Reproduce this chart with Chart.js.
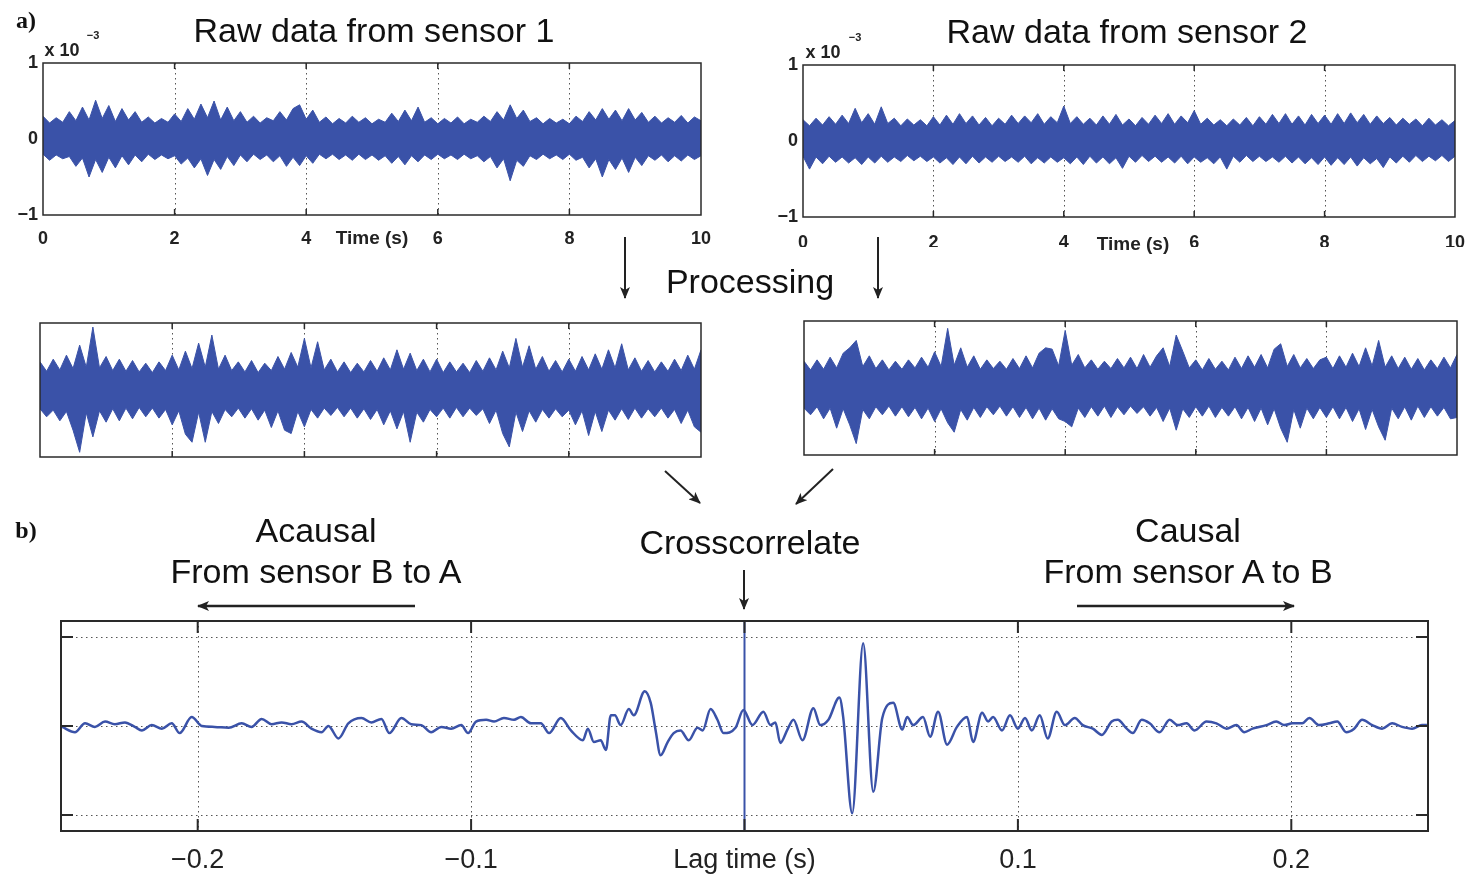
<!DOCTYPE html>
<html>
<head>
<meta charset="utf-8">
<script src="https://cdn.jsdelivr.net/npm/chart.js@4.4.1/dist/chart.umd.min.js"></script>
<style>
  html, body { margin: 0; padding: 0; background: #fff; overflow: hidden; }
  #page { position: relative; width: 1465px; height: 876px; overflow: hidden; font-family: 'Liberation Sans', Arial, sans-serif; color: #111; }
  canvas { position: absolute; }
  svg { position: absolute; left: 0; top: 0; }
  .t { position: absolute; white-space: nowrap; transform: translate(-50%, -50%); line-height: 1; }
  .title { font-size: 34px; }
  .narrow { font-family: 'Liberation Sans Narrow', 'Liberation Sans', Arial, sans-serif; font-weight: bold; font-size: 18px; color: #222; }
  .sup { font-size: 11px; }
  .tag { font-family: 'Liberation Serif', 'DejaVu Serif', serif; font-weight: bold; font-size: 24px; }
</style>
</head>
<body>
<div id="page">
  <canvas id="raw1" width="740" height="215" style="left:0px;top:40px"></canvas>
  <canvas id="raw2" width="720" height="217" style="left:760px;top:40px"></canvas>
  <canvas id="proc1" width="669" height="142" style="left:36px;top:319px"></canvas>
  <canvas id="proc2" width="661" height="142" style="left:800px;top:317px"></canvas>
  <canvas id="xcorr" width="1420" height="276" style="left:40px;top:600px"></canvas>

  <svg width="1465" height="876">
    <defs>
      <marker id="head" viewBox="0 0 12 10" refX="11" refY="5" markerWidth="12" markerHeight="10" markerUnits="userSpaceOnUse" orient="auto">
        <path d="M0,0 L12,5 L0,10 L3,5 z" fill="#222"/>
      </marker>
    </defs>
    <g stroke="#222" stroke-width="2" fill="none" marker-end="url(#head)">
      <line x1="625" y1="237" x2="625" y2="298"/>
      <line x1="878" y1="237" x2="878" y2="298"/>
      <line x1="665" y1="471" x2="700" y2="503"/>
      <line x1="833" y1="469" x2="796" y2="504"/>
      <line x1="744" y1="570" x2="744" y2="609"/>
      <line x1="415" y1="606" x2="198" y2="606" stroke-width="2.5"/>
      <line x1="1077" y1="606" x2="1294" y2="606" stroke-width="2.5"/>
    </g>
  </svg>

  <div class="t tag" style="left:26px;top:20px">a)</div>
  <div class="t tag" style="left:26px;top:530px">b)</div>
  <div class="t title" style="left:374px;top:30px">Raw data from sensor 1</div>
  <div class="t title" style="left:1127px;top:31px">Raw data from sensor 2</div>
  <div class="t title" style="left:750px;top:281px">Processing</div>
  <div class="t title" style="left:750px;top:542px">Crosscorrelate</div>
  <div class="t title" style="left:316px;top:530px">Acausal</div>
  <div class="t title" style="left:316px;top:571px">From sensor B to A</div>
  <div class="t title" style="left:1188px;top:530px">Causal</div>
  <div class="t title" style="left:1188px;top:571px">From sensor A to B</div>
  <div class="t narrow" style="left:372px;top:237px;font-size:19px">Time (s)</div>
  <div class="t narrow" style="left:1133px;top:243px;font-size:19px">Time (s)</div>
  <div class="t narrow" style="left:62px;top:50px;font-size:18px">x 10</div>
  <div class="t narrow sup" style="left:93px;top:35px">−3</div>
  <div class="t narrow" style="left:823px;top:52px;font-size:18px">x 10</div>
  <div class="t narrow sup" style="left:855px;top:37px">−3</div>
</div>

<script>
// Tick values
const timeTicks = [0, 2, 4, 6, 8, 10];
const timeGrid = [2, 4, 6, 8];
const rawYTicks = [-1, 0, 1];
const lagTicks = [-0.2, -0.1, 0, 0.1, 0.2];
const lagGrid = [-0.2, -0.1, 0.1, 0.2];
const corrGrid = [-1, 0, 1];

// Noise records: envelope (upper / lower) read every 0.1 s, 0..10 s
const SAMPLE_STEP = 0.1;

const raw1Upper = [0.30,0.21,0.28,0.22, 0.36,0.24,0.42,0.25,0.51,0.27,0.44,0.23,0.40,0.25,0.36,0.22, 0.29,0.21,0.27,0.22,
  0.33,0.23,0.40,0.26,0.46,0.28,0.50,0.25,0.42,0.24,0.36,0.22,0.30, 0.21,0.28, 0.24,0.36,0.25,0.40,0.45,0.26,0.38,0.22,
  0.29,0.20,0.27,0.21,0.30,0.22,0.28,0.20,0.26,0.22, 0.34,0.23,0.38,0.24,0.42,0.22, 0.28,0.20,0.27,0.21,0.29,0.20,0.26,0.22,0.30,0.23,
  0.36,0.25,0.45,0.27,0.38,0.23, 0.28,0.20,0.27,0.21,0.26,0.20,0.30, 0.23,0.36,0.25,0.40,0.26,0.38,0.24,0.40,0.25,0.35,0.22,
  0.30,0.21,0.28,0.22,0.31,0.21,0.29,0.24];
const raw1Lower = [-0.20,-0.28,-0.21,-0.26, -0.23,-0.36,-0.25,-0.50,-0.27,-0.44,-0.24,-0.38,-0.22,-0.34,-0.21,-0.30, -0.20,-0.27,-0.21,-0.26,
  -0.22,-0.33,-0.25,-0.38,-0.26,-0.48,-0.27,-0.40,-0.23,-0.35,-0.21,-0.30,-0.20, -0.27,-0.21, -0.30,-0.22,-0.36,-0.24,-0.35,-0.22,-0.32,-0.20,
  -0.26,-0.20,-0.27,-0.21,-0.28,-0.20,-0.27,-0.21,-0.28,-0.22, -0.32,-0.23,-0.34,-0.22,-0.30,-0.21, -0.27,-0.20,-0.26,-0.21,-0.27,-0.20,-0.26,-0.22,-0.30,-0.23,
  -0.38,-0.26,-0.55,-0.28,-0.36,-0.22, -0.27,-0.20,-0.26,-0.21,-0.27,-0.20,-0.28, -0.24,-0.38,-0.26,-0.50,-0.27,-0.40,-0.25,-0.44,-0.24,-0.35,-0.22,
  -0.28,-0.21,-0.30,-0.22,-0.29,-0.21,-0.27,-0.22];

const raw2Upper = [0.28,0.20,0.30,0.21,0.32,0.22,0.34,0.23,0.43,0.24, 0.36,0.22,0.45,0.23,0.30,0.20,0.29,0.21,0.28,0.20,
  0.32,0.21,0.34,0.22,0.36,0.23,0.33,0.21,0.31,0.20, 0.30,0.22,0.34,0.23,0.33,0.24,0.36,0.22,0.32,0.24,
  0.46,0.23,0.32,0.22,0.30,0.21,0.33,0.22,0.35,0.21, 0.29,0.20,0.31,0.22,0.34,0.23,0.36,0.22,0.33,0.24,
  0.40,0.22,0.30,0.21,0.28,0.20,0.29,0.21,0.31,0.20, 0.32,0.22,0.35,0.23,0.36,0.22,0.33,0.21,0.35,0.23,
  0.34,0.22,0.36,0.23,0.37,0.24,0.35,0.22,0.33,0.23, 0.31,0.21,0.30,0.22,0.29,0.20,0.30,0.21,0.28,0.20,0.27];
const raw2Lower = [-0.20,-0.37,-0.21,-0.30,-0.20,-0.28,-0.21,-0.29,-0.22,-0.31, -0.21,-0.29,-0.20,-0.28,-0.21,-0.27,-0.19,-0.26,-0.20,-0.27,
  -0.21,-0.29,-0.22,-0.31,-0.21,-0.30,-0.20,-0.29,-0.21,-0.28, -0.20,-0.27,-0.21,-0.28,-0.20,-0.30,-0.22,-0.29,-0.21,-0.28,
  -0.22,-0.30,-0.21,-0.31,-0.20,-0.29,-0.21,-0.30,-0.22,-0.36, -0.20,-0.28,-0.19,-0.27,-0.20,-0.28,-0.21,-0.29,-0.20,-0.30,
  -0.21,-0.28,-0.22,-0.30,-0.21,-0.37,-0.20,-0.28,-0.19,-0.27, -0.20,-0.27,-0.21,-0.28,-0.20,-0.29,-0.21,-0.30,-0.22,-0.31,
  -0.21,-0.32,-0.22,-0.31,-0.21,-0.33,-0.22,-0.30,-0.23,-0.35, -0.21,-0.29,-0.20,-0.28,-0.19,-0.27,-0.20,-0.26,-0.19,-0.27,-0.20];

const proc1Upper = [0.42,0.28,0.46,0.30,0.52,0.32,0.67,0.34,0.94,0.33, 0.50,0.29,0.46,0.28,0.44,0.27,0.40,0.26,0.42,0.29,
  0.52,0.30,0.58,0.32,0.70,0.34,0.82,0.31,0.52,0.29, 0.42,0.27,0.44,0.26,0.40,0.29,0.50,0.31,0.56,0.34,
  0.77,0.33,0.72,0.30,0.46,0.27,0.42,0.26,0.40,0.27, 0.44,0.28,0.48,0.30,0.60,0.31,0.55,0.29,0.46,0.27,
  0.46,0.26,0.42,0.27,0.40,0.26,0.44,0.28,0.48,0.30, 0.58,0.33,0.77,0.34,0.66,0.31,0.50,0.28,0.44,0.27,
  0.46,0.28,0.50,0.30,0.54,0.31,0.60,0.33,0.69,0.30, 0.48,0.28,0.44,0.27,0.42,0.28,0.46,0.29,0.52,0.31,0.60];
const proc1Lower = [-0.28,-0.40,-0.30,-0.46,-0.32,-0.60,-0.93,-0.34,-0.70,-0.31, -0.48,-0.28,-0.46,-0.27,-0.43,-0.26,-0.40,-0.27,-0.42,-0.29,
  -0.52,-0.31,-0.66,-0.78,-0.33,-0.78,-0.32,-0.50,-0.29,-0.40, -0.27,-0.42,-0.28,-0.45,-0.30,-0.56,-0.31,-0.60,-0.65,-0.32,
  -0.55,-0.29,-0.42,-0.27,-0.38,-0.26,-0.40,-0.27,-0.42,-0.28, -0.44,-0.29,-0.52,-0.31,-0.58,-0.32,-0.78,-0.33,-0.48,-0.29,
  -0.40,-0.27,-0.42,-0.26,-0.40,-0.27,-0.38,-0.28,-0.50,-0.30, -0.65,-0.85,-0.33,-0.62,-0.31,-0.48,-0.29,-0.42,-0.28,-0.40,
  -0.30,-0.52,-0.31,-0.68,-0.32,-0.62,-0.30,-0.45,-0.28,-0.44, -0.27,-0.42,-0.28,-0.40,-0.27,-0.42,-0.29,-0.50,-0.30,-0.55,-0.63];

const proc2Upper = [0.40,0.27,0.42,0.28,0.46,0.30,0.52,0.60,0.71,0.32, 0.48,0.29,0.42,0.27,0.40,0.28,0.42,0.30,0.46,0.31,
  0.54,0.32,0.89,0.34,0.60,0.31,0.48,0.28,0.42,0.29, 0.40,0.28,0.44,0.29,0.48,0.30,0.52,0.60,0.58,0.33,
  0.86,0.34,0.50,0.30,0.42,0.28,0.40,0.29,0.44,0.30, 0.46,0.29,0.50,0.31,0.48,0.60,0.32,0.79,0.55,0.30,
  0.42,0.27,0.44,0.28,0.40,0.27,0.46,0.29,0.48,0.31, 0.50,0.30,0.58,0.66,0.32,0.50,0.30,0.44,0.29,0.42,
  0.46,0.29,0.48,0.31,0.52,0.32,0.60,0.33,0.71,0.31, 0.48,0.29,0.46,0.28,0.44,0.27,0.42,0.29,0.46,0.30,0.50];
const proc2Lower = [-0.30,-0.40,-0.28,-0.46,-0.30,-0.60,-0.31,-0.55,-0.83,-0.32, -0.46,-0.28,-0.40,-0.27,-0.42,-0.28,-0.43,-0.29,-0.46,-0.30,
  -0.50,-0.31,-0.52,-0.66,-0.32,-0.48,-0.29,-0.44,-0.28,-0.40, -0.27,-0.42,-0.28,-0.44,-0.29,-0.46,-0.30,-0.48,-0.31,-0.46,
  -0.50,-0.58,-0.30,-0.44,-0.28,-0.42,-0.27,-0.44,-0.28,-0.40, -0.27,-0.38,-0.28,-0.42,-0.29,-0.50,-0.30,-0.63,-0.31,-0.44,
  -0.28,-0.42,-0.27,-0.44,-0.29,-0.42,-0.28,-0.46,-0.29,-0.50, -0.30,-0.55,-0.31,-0.60,-0.81,-0.32,-0.60,-0.30,-0.46,-0.29,
  -0.44,-0.28,-0.46,-0.29,-0.50,-0.31,-0.62,-0.32,-0.58,-0.78, -0.30,-0.46,-0.28,-0.48,-0.27,-0.44,-0.28,-0.42,-0.29,-0.46,-0.44];

// Crosscorrelation (lag in s, normalised amplitude)
const lags = [-0.2496,-0.2449,-0.2412,-0.2376,-0.2339,-0.2303,-0.2266,-0.2230,-0.2204,-0.2168,-0.2131,-0.2095,-0.2066,-0.2022,
  -0.1985,-0.1938,-0.1887,-0.1839,-0.1803,-0.1766,-0.1730,-0.1693,-0.1657,-0.1620,-0.1584,-0.1547,-0.1522,-0.1485,-0.1449,
  -0.1401,-0.1365,-0.1328,-0.1299,-0.1255,-0.1219,-0.1182,-0.1146,-0.1109,-0.1073,-0.1036,-0.1011,-0.0982,-0.0945,-0.0916,
  -0.0880,-0.0843,-0.0818,-0.0781,-0.0745,-0.0715,-0.0672,-0.0635,-0.0591,-0.0573,-0.0551,-0.0526,-0.0507,-0.0489,-0.0474,
  -0.0453,-0.0423,-0.0405,-0.0365,-0.0343,-0.0325,-0.0307,-0.0281,-0.0259,-0.0234,-0.0204,-0.0172,-0.0153,-0.0124,-0.0099,
  -0.0077,-0.0033,-0.0004,0.0029,0.0069,0.0095,0.0113,0.0131,0.0157,0.0179,0.0212,0.0252,0.0277,0.0307,0.0347,0.0361,
  0.0394,0.0434,0.0471,0.0504,0.0544,0.0577,0.0595,0.0617,0.0653,0.0679,0.0708,0.0741,0.0777,0.0814,0.0836,0.0869,0.0891,
  0.0909,0.0942,0.0971,0.1000,0.1026,0.1051,0.1080,0.1109,0.1142,0.1172,0.1208,0.1237,0.1274,0.1307,0.1343,0.1365,0.1398,
  0.1420,0.1453,0.1482,0.1518,0.1555,0.1584,0.1617,0.1646,0.1690,0.1726,0.1763,0.1799,0.1828,0.1858,0.1909,0.1945,0.1974,
  0.2004,0.2040,0.2066,0.2102,0.2139,0.2168,0.2201,0.2230,0.2259,0.2296,0.2332,0.2369,0.2405,0.2442,0.2478,0.2496];
const corr = [-0.01,-0.07,0.03,-0.01,0.05,0.02,0.04,-0.01,-0.05,0.01,-0.03,0.03,-0.08,0.10,
  0.00,-0.01,-0.02,0.03,-0.01,0.08,0.02,0.04,0.02,0.05,-0.03,-0.07,0.00,-0.14,0.03,
  0.09,0.04,0.08,-0.08,0.09,0.02,0.01,-0.07,-0.01,-0.03,0.01,-0.08,0.05,0.07,0.05,
  0.09,0.07,0.10,0.03,0.03,-0.08,0.09,-0.05,-0.16,-0.03,-0.18,-0.16,-0.27,0.12,0.12,
  0.01,0.19,0.12,0.39,0.26,-0.05,-0.33,-0.18,-0.08,-0.05,-0.16,-0.02,-0.05,0.19,0.07,
  -0.08,-0.02,0.18,0.01,0.16,0.01,0.04,-0.19,-0.04,0.07,-0.16,0.20,0.01,0.07,0.32,0.10,
  -0.98,0.93,-0.74,0.09,0.26,-0.04,0.10,0.01,0.10,-0.12,0.16,-0.21,-0.01,0.10,-0.18,0.15,0.05,
  0.10,-0.05,0.12,-0.03,0.09,-0.05,0.12,-0.14,0.16,0.01,0.09,0.01,-0.03,-0.10,0.05,0.07,-0.03,
  -0.08,0.07,0.03,-0.07,0.07,0.01,0.03,-0.05,0.05,0.03,-0.03,0.01,-0.07,-0.03,0.01,0.05,0.01,
  0.03,0.03,0.09,0.01,0.03,0.05,-0.07,-0.03,0.07,0.01,-0.03,0.03,-0.01,-0.03,0.01,0.01];

const BLUE = '#3a52a8';
const NARROW = "'Liberation Sans Narrow', 'Liberation Sans', Arial, sans-serif";
const minus = v => (v < 0 ? '\u2212' : '') + Math.abs(v);

// MATLAB-like box: dotted grid under the data, inward ticks and frame on top
const matlabAxes = {
  id: 'matlabAxes',
  beforeDatasetsDraw(chart, args, o) {
    const { ctx, chartArea: a } = chart;
    const x = chart.scales.x, y = chart.scales.y;
    ctx.save();
    ctx.strokeStyle = '#555';
    ctx.lineWidth = 1;
    ctx.setLineDash([1.5, 3.5]);
    ctx.beginPath();
    (o.xGrid || []).forEach(v => {
      const p = Math.round(x.getPixelForValue(v)) + 0.5;
      ctx.moveTo(p, a.top); ctx.lineTo(p, a.bottom);
    });
    (o.yGrid || []).forEach(v => {
      const p = Math.round(y.getPixelForValue(v)) + 0.5;
      ctx.moveTo(a.left, p); ctx.lineTo(a.right, p);
    });
    ctx.stroke();
    ctx.restore();
  },
  afterDatasetsDraw(chart, args, o) {
    const { ctx, chartArea: a } = chart;
    const x = chart.scales.x, y = chart.scales.y;
    ctx.save();
    if (o.zeroLag !== undefined) {
      const p = x.getPixelForValue(o.zeroLag);
      ctx.strokeStyle = BLUE;
      ctx.lineWidth = 2;
      ctx.beginPath(); ctx.moveTo(p, a.top); ctx.lineTo(p, a.bottom); ctx.stroke();
    }
    ctx.strokeStyle = '#2a2a2a';
    ctx.lineWidth = o.tickWidth || 1.5;
    ctx.beginPath();
    (o.xTicks || []).forEach(v => {
      const p = x.getPixelForValue(v);
      ctx.moveTo(p, a.bottom); ctx.lineTo(p, a.bottom - o.tickLen);
      ctx.moveTo(p, a.top); ctx.lineTo(p, a.top + o.tickLen);
    });
    (o.yTicks || []).forEach(v => {
      const p = y.getPixelForValue(v);
      ctx.moveTo(a.left, p); ctx.lineTo(a.left + o.tickLen, p);
      ctx.moveTo(a.right, p); ctx.lineTo(a.right - o.tickLen, p);
    });
    ctx.stroke();
    ctx.lineWidth = o.frameWidth || 1.5;
    ctx.strokeRect(a.left, a.top, a.right - a.left, a.bottom - a.top);
    ctx.restore();
  }
};

function toPoints(values) {
  return values.map((v, i) => ({ x: i * SAMPLE_STEP, y: v }));
}

function noiseChart(id, upper, lower, padding, withAxes, labelPad) {
  const xScale = {
    type: 'linear', min: 0, max: 10, display: withAxes,
    grid: { display: false, drawTicks: false }, border: { display: false },
    afterBuildTicks: s => { s.ticks = timeTicks.map(v => ({ value: v })); },
    ticks: { color: '#222', padding: labelPad, font: { family: NARROW, size: 18, weight: 'bold' } }
  };
  const yScale = {
    type: 'linear', min: -1, max: 1, display: withAxes,
    grid: { display: false, drawTicks: false }, border: { display: false },
    afterBuildTicks: s => { s.ticks = rawYTicks.map(v => ({ value: v })); },
    ticks: { color: '#222', padding: 5, font: { family: NARROW, size: 18, weight: 'bold' }, callback: minus }
  };
  if (withAxes) {
    xScale.afterFit = s => { s.height = 30; };
    yScale.afterFit = s => { s.width = 43; };
  }
  return new Chart(document.getElementById(id), {
    type: 'line',
    data: {
      datasets: [
        { data: toPoints(upper), borderColor: BLUE, borderWidth: 1, pointRadius: 0, fill: false },
        { data: toPoints(lower), borderColor: BLUE, borderWidth: 1, pointRadius: 0, fill: '-1', backgroundColor: BLUE }
      ]
    },
    options: {
      responsive: false, animation: false, events: [],
      layout: { padding },
      scales: { x: xScale, y: yScale },
      plugins: {
        legend: { display: false }, tooltip: { enabled: false },
        matlabAxes: { xGrid: timeGrid, xTicks: timeGrid, tickLen: 6, frameWidth: 1.5 }
      }
    },
    plugins: [matlabAxes]
  });
}

noiseChart('raw1', raw1Upper, raw1Lower, { top: 23, right: 39, bottom: 10, left: 0 }, true, 13);
noiseChart('raw2', raw2Upper, raw2Lower, { top: 25, right: 23, bottom: 10, left: 0 }, true, 15);
noiseChart('proc1', proc1Upper, proc1Lower, 4, false, 0);
noiseChart('proc2', proc2Upper, proc2Lower, 4, false, 0);

// Crosscorrelation panel
new Chart(document.getElementById('xcorr'), {
  type: 'line',
  data: {
    datasets: [{
      data: lags.map((l, i) => ({ x: l, y: corr[i] })),
      borderColor: BLUE, borderWidth: 2.5, pointRadius: 0, fill: false,
      cubicInterpolationMode: 'monotone'
    }]
  },
  options: {
    responsive: false, animation: false, events: [],
    layout: { padding: { top: 21, right: 32, bottom: 0, left: 21 } },
    scales: {
      x: {
        type: 'linear', min: -0.25, max: 0.25,
        grid: { display: false, drawTicks: false }, border: { display: false },
        afterBuildTicks: s => { s.ticks = lagTicks.map(v => ({ value: v })); },
        ticks: {
          color: '#222', padding: 13, font: { family: NARROW, size: 27 },
          callback: v => v === 0 ? 'Lag time (s)' : minus(v)
        },
        afterFit: s => { s.height = 45; }
      },
      y: { type: 'linear', min: -1.18, max: 1.18, display: false }
    },
    plugins: {
      legend: { display: false }, tooltip: { enabled: false },
      matlabAxes: { xGrid: lagGrid, yGrid: corrGrid, xTicks: lagTicks, yTicks: corrGrid, tickLen: 12, tickWidth: 2, frameWidth: 2, zeroLag: 0 }
    }
  },
  plugins: [matlabAxes]
});
</script>
</body>
</html>
